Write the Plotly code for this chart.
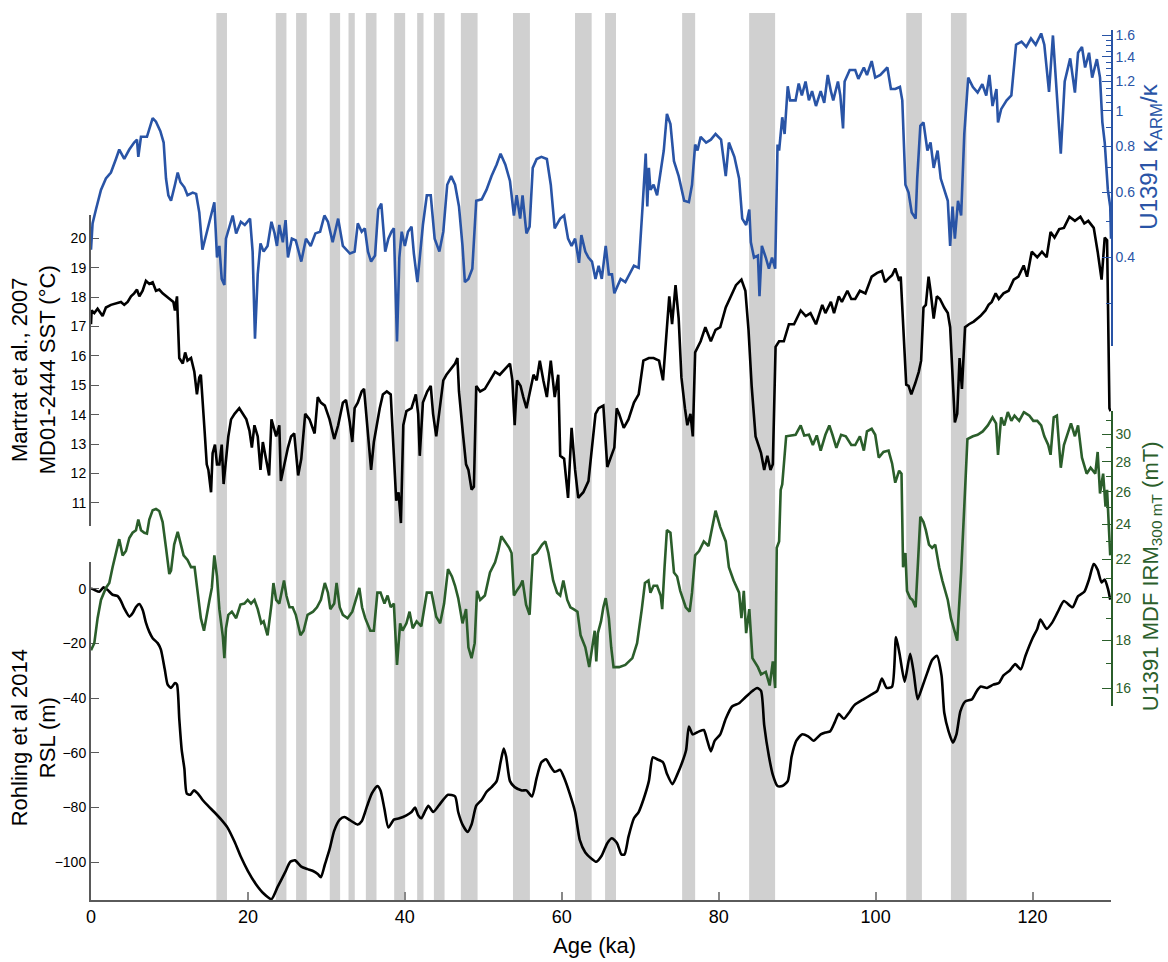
import math
import plotly.graph_objects as go

# ---------------- data ----------------
stadial_start = [15.98, 23.55, 26.14, 30.43, 32.82, 35.03, 38.64, 41.57, 43.70, 47.14,
                 53.78, 61.69, 65.52, 75.34, 83.88, 103.9, 109.6]
stadial_end = [17.33, 24.91, 27.50, 31.75, 33.62, 36.39, 40.04, 42.38, 45.06, 49.27,
               55.94, 63.81, 66.91, 77.00, 87.19, 105.9, 111.6]

karm_age = [0.0, 0.2, 0.63, 1.27, 1.9, 2.54, 3.18, 3.6, 4.24, 4.88, 5.5, 5.86, 6.03, 6.37, 7.13, 7.86,
            8.28, 8.84, 9.26, 9.56, 9.86, 10.2, 10.7, 11.05, 11.4, 11.9, 12.3, 12.96, 13.4, 13.8, 14.2,
            14.66, 15.3, 15.72, 16.06, 16.36, 16.66, 17.0, 17.2, 17.6, 18.06, 18.5, 19.1, 19.6, 20.27,
            20.6, 20.9, 21.25, 21.6, 22.0, 22.5, 23.0, 23.4, 23.7, 24.0, 24.45, 24.8, 25.1, 25.6, 26.1,
            26.8, 27.4, 28.0, 28.6, 29.2, 29.75, 30.2, 30.8, 31.5, 32.1, 33.0, 33.6, 34.0, 34.5, 34.9,
            35.3, 35.7, 36.2, 36.6, 37.0, 37.5, 37.9, 38.3, 38.6, 39.0, 39.3, 39.6, 40.0, 40.4, 40.85,
            41.15, 41.6, 41.9, 42.3, 42.8, 43.3, 43.8, 44.4, 44.9, 45.4, 45.9, 46.4, 46.9, 47.35, 47.65,
            48.1, 48.6, 49.1, 49.8, 50.4, 51.05, 51.7, 52.2, 52.8, 53.4, 53.9, 54.25, 54.7, 55.0, 55.5,
            55.9, 56.3, 56.8, 57.4, 58.1, 58.6, 59.1, 59.8, 60.3, 60.8, 61.25, 61.7, 62.2, 62.5, 63.0,
            63.4, 63.85, 64.3, 64.7, 65.1, 65.6, 66.0, 66.4, 66.7, 67.5, 68.1, 69.2, 69.8, 70.3, 70.7,
            70.9, 71.1, 71.3, 71.7, 72.15, 72.6, 73.0, 73.4, 73.85, 74.3, 74.9, 75.6, 76.2, 76.6, 77.0,
            77.3, 77.7, 78.4, 79.0, 79.6, 80.3, 80.9, 81.3, 82.0, 82.6, 83.0, 83.5, 83.9, 84.1, 84.5,
            85.0, 85.2, 85.5, 86.0, 86.4, 86.8, 87.2, 87.5, 87.7, 88.1, 88.4, 88.8, 89.1, 89.8, 90.2,
            90.6, 91.07, 91.5, 91.9, 92.4, 93.0, 93.45, 93.9, 94.3, 94.6, 95.2, 95.5, 95.85, 96.05, 96.7,
            97.4, 97.8, 98.5, 98.9, 99.5, 99.95, 100.6, 101.5, 101.95, 102.5, 103.1, 103.4, 103.6, 103.8,
            104.2, 104.6, 105.1, 105.3, 105.7, 106.1, 106.6, 107.0, 107.4, 107.9, 108.3, 108.7, 109.2,
            109.5, 109.8, 110.1, 110.5, 110.9, 111.3, 111.8, 112.4, 113.0, 113.6, 114.1, 114.5, 114.9,
            115.4, 115.6, 116.0, 116.7, 117.3, 117.9, 118.6, 119.2, 119.8, 120.4, 121.1, 121.5, 122.1,
            122.6, 123.0, 123.6, 124.1, 124.8, 125.4, 125.8, 126.3, 126.7, 127.2, 127.6, 128.2, 128.6,
            128.9, 129.2, 129.6, 129.9, 130.0]
karm_val = [0.42, 0.495, 0.54, 0.61, 0.655, 0.68, 0.74, 0.785, 0.74, 0.785, 0.82, 0.835, 0.75, 0.85, 0.85, 0.955,
            0.934, 0.88, 0.82, 0.655, 0.59, 0.57, 0.63, 0.68, 0.64, 0.62, 0.59, 0.6, 0.595, 0.53, 0.42,
            0.46, 0.52, 0.565, 0.40, 0.43, 0.35, 0.337, 0.45, 0.48, 0.52, 0.465, 0.5, 0.49, 0.51,
            0.415, 0.241, 0.36, 0.437, 0.415, 0.43, 0.50, 0.465, 0.43, 0.49, 0.44, 0.505, 0.40, 0.45, 0.445,
            0.39, 0.45, 0.43, 0.465, 0.47, 0.52, 0.50, 0.44, 0.51, 0.43, 0.41, 0.415, 0.495, 0.47, 0.48,
            0.415, 0.39, 0.405, 0.54, 0.56, 0.415, 0.45, 0.47, 0.48, 0.237, 0.40, 0.47, 0.43, 0.47, 0.485,
            0.41, 0.343, 0.40, 0.49, 0.59, 0.59, 0.45, 0.415, 0.47, 0.63, 0.665, 0.63, 0.55, 0.43, 0.343,
            0.35, 0.373, 0.57, 0.575, 0.61, 0.665, 0.715, 0.765, 0.715, 0.645, 0.52, 0.59, 0.51, 0.59, 0.465,
            0.485, 0.70, 0.74, 0.75, 0.74, 0.63, 0.48, 0.51, 0.52, 0.45, 0.43, 0.45, 0.387, 0.46, 0.415,
            0.40, 0.39, 0.35, 0.38, 0.35, 0.43, 0.36, 0.36, 0.32, 0.35, 0.343, 0.38, 0.375, 0.55, 0.765,
            0.55, 0.70, 0.61, 0.63, 0.59, 0.68, 0.78, 0.98, 0.92, 0.73, 0.665, 0.57, 0.565, 0.63, 0.81,
            0.78, 0.85, 0.82, 0.835, 0.865, 0.835, 0.665, 0.82, 0.75, 0.655, 0.51, 0.49, 0.54, 0.44, 0.40,
            0.405, 0.314, 0.43, 0.40, 0.373, 0.40, 0.373, 0.81, 0.78, 0.96, 0.865, 1.165, 1.067, 1.067, 1.185,
            1.1, 1.2, 1.067, 1.13, 1.03, 1.13, 1.05, 1.25, 1.13, 1.067, 1.2, 1.1, 0.896, 1.2, 1.29,
            1.29, 1.22, 1.31, 1.25, 1.363, 1.23, 1.25, 1.31, 1.145, 1.145, 1.16, 1.067, 0.765, 0.63,
            0.60, 0.53, 0.51, 0.655, 0.91, 0.93, 0.78, 0.82, 0.70, 0.78, 0.655, 0.615, 0.57,
            0.43, 0.55, 0.45, 0.57, 0.52, 0.865, 1.23, 1.16, 1.12, 1.18, 1.1, 1.25, 1.03,
            1.145, 0.93, 1.01, 1.067, 1.1, 1.51, 1.54, 1.49, 1.57, 1.51, 1.62, 1.51, 1.125,
            1.6, 1.2, 0.765, 1.2, 1.387, 1.12, 1.436, 1.49, 1.31, 1.436, 1.23, 1.38, 1.23,
            0.93, 0.82, 0.61, 0.55, 0.45]

sst_age = [0.0, 0.08, 0.42, 0.84, 1.48, 1.9, 2.54, 3.18, 3.82, 4.24, 4.67, 5.1, 5.5, 5.86, 6.16, 6.58, 7.0,
           7.43, 7.86, 8.28, 8.7, 9.13, 9.56, 9.98, 10.5, 10.7, 10.96, 11.25, 11.7, 12.0, 12.3, 12.75,
           13.17, 13.5, 13.8, 14.0, 14.2, 14.5, 14.75, 14.96, 15.3, 15.5, 15.8, 16.06, 16.36, 16.66, 16.9,
           17.2, 17.5, 17.85, 18.3, 18.9, 19.35, 19.8, 20.2, 20.5, 20.83, 21.25, 21.6, 21.9, 22.3, 22.7,
           23.0, 23.6, 24.0, 24.2, 24.65, 25.1, 25.5, 25.9, 26.4, 26.8, 27.3, 27.85, 28.5, 28.9, 29.3,
           29.8, 30.4, 31.0, 31.5, 32.1, 32.5, 32.98, 33.3, 33.6, 34.0, 34.5, 34.8, 35.1, 35.5, 35.7,
           36.05, 36.4, 36.8, 37.2, 37.7, 38.2, 38.5, 38.9, 39.2, 39.5, 39.8, 40.2, 40.85, 41.4, 41.7,
           41.9, 42.3, 42.85, 43.3, 43.6, 44.0, 44.5, 44.9, 45.3, 45.9, 46.4, 46.7, 46.9, 47.4, 47.8,
           48.1, 48.5, 48.8, 49.1, 49.6, 50.2, 50.85, 51.5, 52.1, 52.75, 53.4, 53.7, 54.0, 54.3, 54.75,
           55.1, 55.5, 55.95, 56.4, 56.8, 57.2, 57.65, 58.1, 58.6, 59.1, 59.55, 59.8, 60.3, 60.8, 61.25,
           61.7, 62.1, 62.75, 63.4, 63.8, 64.3, 64.7, 65.3, 65.8, 66.2, 66.7, 67.0, 67.3, 67.9, 68.5,
           69.2, 69.8, 70.4, 71.1, 71.7, 72.4, 72.9, 73.3, 73.7, 74.06, 74.5, 74.9, 75.25, 75.7, 76.0,
           76.4, 76.7, 77.0, 77.7, 78.3, 79.0, 79.6, 80.2, 80.9, 81.5, 82.2, 82.9, 83.4, 83.8, 84.2,
           84.7, 85.4, 85.8, 86.2, 86.6, 86.9, 87.25, 87.7, 88.3, 88.95, 89.6, 90.45, 91.1, 91.7, 92.4,
           93.2, 93.6, 94.3, 94.7, 95.3, 95.7, 96.4, 96.9, 97.4, 98.0, 98.7, 99.5, 100.2, 100.8, 101.2,
           101.65, 102.1, 102.5, 103.0, 103.2, 103.6, 103.9, 104.2, 104.55, 105.05, 105.5, 105.8, 106.1,
           106.4, 106.75, 107.0, 107.4, 107.8, 108.2, 108.75, 109.2, 109.5, 109.8, 110.1, 110.4, 110.7,
           111.0, 111.4, 111.9, 112.5, 113.35, 114.0, 114.4, 114.8, 115.3, 115.7, 116.3, 116.95, 117.6,
           118.2, 118.87, 119.3, 119.9, 120.6, 121.2, 121.8, 122.3, 122.8, 123.4, 124.0, 124.7, 125.4,
           126.1, 126.6, 127.1, 127.8, 128.3, 128.8, 129.2, 129.5, 129.8, 129.95]
sst_val = [17.08, 17.55, 17.46, 17.61, 17.36, 17.65, 17.74, 17.78, 17.84, 17.74, 17.84, 18.03, 18.13, 18.26, 18.03, 18.22, 18.56,
           18.45, 18.51, 18.22, 18.26, 18.13, 18.03, 17.94, 17.84, 17.55, 18.03, 15.93, 15.74, 16.12, 15.84, 15.93,
           15.46, 14.69, 15.27, 15.36, 14.41, 13.36, 12.31, 12.12, 11.36, 12.69, 12.98, 12.31, 12.31, 12.98, 11.64,
           12.5, 13.26, 13.84, 14.03, 14.22, 14.03, 13.84, 13.45, 12.88, 13.64, 13.26, 12.12, 13.07, 12.5, 11.93,
           13.84, 13.26, 13.64, 11.74, 12.31, 12.88, 13.26, 13.36, 11.93, 12.5, 14.03, 13.84, 13.36, 14.6, 14.41,
           14.31, 13.84, 13.17, 13.64, 14.41, 14.5, 13.74, 13.07, 14.22, 14.41, 14.79, 14.88, 14.03, 12.69, 12.12,
           13.07, 13.64, 14.22, 14.69, 14.79, 14.69, 13.17, 11.07, 11.36, 10.31, 13.64, 14.12, 14.22, 14.69, 14.03,
           12.6, 14.41, 14.79, 14.98, 14.03, 13.26, 14.41, 15.17, 15.36, 15.55, 15.74, 15.93, 14.79, 13.36, 12.31,
           12.12, 11.45, 11.55, 14.98, 14.79, 14.88, 15.17, 15.46, 15.36, 15.55, 15.74, 15.17, 13.64, 15.17, 14.98,
           14.6, 14.22, 14.79, 15.36, 15.17, 15.84, 15.17, 14.6, 15.84, 14.6, 15.36, 12.6, 12.5, 11.17, 13.55,
           12.12, 11.17, 11.36, 11.74, 12.69, 14.03, 14.22, 14.31, 12.22, 12.5, 12.88, 14.22, 14.03, 13.55, 13.84,
           14.41, 14.69, 15.84, 15.93, 15.93, 15.84, 15.17, 16.79, 18.03, 17.08, 18.41, 17.27, 15.27, 14.22, 13.64,
           14.03, 13.26, 16.12, 16.5, 16.98, 16.5, 16.89, 16.98, 17.65, 18.03, 18.41, 18.6, 18.22, 16.89, 14.98,
           13.26, 12.69, 12.12, 12.6, 12.12, 12.31, 16.31, 16.5, 16.5, 17.08, 17.08, 17.55, 17.36, 17.46, 17.08,
           17.74, 17.46, 17.84, 17.46, 18.03, 17.84, 18.22, 17.94, 17.94, 18.22, 18.13, 18.7, 18.83, 18.89, 18.51,
           18.64, 18.75, 18.98, 18.56, 18.7, 16.7, 15.02, 14.98, 14.69, 15.07, 15.46, 15.84, 17.65,
           17.74, 18.7, 18.22, 17.27, 18.03, 17.94, 17.65, 17.46, 16.98, 15.36, 13.74, 14.03, 15.93,
           14.88, 16.98, 17.08, 17.17, 17.36, 17.55, 17.74, 17.84, 18.13, 17.94, 18.13, 18.22, 18.6,
           18.7, 19.08, 18.7, 19.55, 19.36, 19.55, 19.36, 20.22, 20.03, 20.32, 20.36, 20.74, 20.6,
           20.74, 20.51, 20.6, 20.36, 19.55, 18.6, 20.03, 19.94, 14.22, 14.12]

mdf_age = [0.0, 0.42, 0.84, 1.27, 1.9, 2.33, 2.75, 3.18, 3.6, 4.03, 4.45, 4.88, 5.3, 5.73, 6.03, 6.37, 6.8,
           7.13, 7.43, 7.86, 8.28, 8.7, 9.13, 9.56, 9.98, 10.2, 10.6, 11.05, 11.4, 11.8, 12.3, 12.75, 13.2,
           13.6, 14.0, 14.4, 14.66, 15.1, 15.4, 15.72, 16.06, 16.36, 16.8, 17.0, 17.2, 17.5, 17.95, 18.5,
           19.05, 19.55, 19.97, 20.4, 20.83, 21.25, 21.7, 22.0, 22.5, 23.0, 23.25, 23.6, 24.0, 24.6, 24.9,
           25.3, 25.7, 26.1, 26.7, 27.1, 27.6, 28.3, 28.8, 29.3, 29.8, 30.2, 30.5, 31.0, 31.3, 31.7, 32.1,
           32.7, 33.3, 33.8, 34.2, 34.55, 34.95, 35.6, 36.05, 36.5, 36.9, 37.4, 37.8, 38.2, 38.6, 39.0,
           39.4, 39.7, 40.2, 40.6, 41.0, 41.5, 42.1, 42.8, 43.4, 44.0, 44.5, 45.0, 45.5, 46.0, 46.4, 46.8,
           47.35, 47.8, 48.1, 48.5, 48.9, 49.2, 49.6, 50.2, 50.85, 51.5, 51.9, 52.3, 52.75, 53.3, 53.6,
           53.9, 54.25, 54.7, 55.0, 55.45, 55.9, 56.3, 56.8, 57.5, 57.9, 58.3, 58.9, 59.4, 59.8, 60.2,
           60.7, 61.1, 61.5, 62.0, 62.4, 63.0, 63.5, 63.85, 64.2, 64.4, 64.6, 65.0, 65.3, 65.6, 66.0,
           66.3, 66.6, 67.3, 68.1, 69.0, 69.6, 70.2, 70.6, 71.05, 71.3, 71.7, 72.15, 72.6, 72.8, 73.1,
           73.4, 73.85, 74.3, 74.7, 75.1, 75.8, 76.3, 76.6, 77.0, 77.5, 78.1, 78.7, 79.6, 80.2, 80.9,
           81.3, 81.9, 82.6, 82.9, 83.2, 83.5, 83.9, 84.3, 85.0, 85.4, 86.0, 86.5, 86.9, 87.2, 87.4,
           87.7, 87.9, 88.1, 88.6, 89.2, 89.8, 90.45, 90.9, 91.5, 92.0, 92.5, 93.0, 93.6, 94.1, 94.5,
           95.0, 95.6, 96.2, 96.9, 97.4, 98.0, 98.5, 98.9, 99.5, 99.95, 100.4, 101.0, 101.65, 102.1,
           102.5, 103.0, 103.3, 103.5, 103.8, 104.0, 104.4, 104.7, 105.1, 105.4, 105.7, 106.1, 106.4,
           106.8, 107.2, 107.6, 108.1, 108.5, 109.2, 109.6, 110.0, 110.4, 110.6, 110.9, 111.3, 111.7,
           112.4, 113.0, 113.65, 114.3, 114.9, 115.35, 115.6, 116.0, 116.4, 116.85, 117.3, 117.7, 118.3,
           118.9, 119.6, 120.1, 120.6, 121.1, 121.5, 122.0, 122.3, 122.7, 123.1, 123.6, 124.0, 124.4,
           124.9, 125.4, 125.8, 126.3, 126.9, 127.4, 128.0, 128.3, 128.6, 129.0, 129.3, 129.5, 129.9]
mdf_val = [17.57, 17.88, 19.02, 19.9, 20.5, 20.75, 21.58, 22.35, 23.13, 22.22, 22.46, 23.2, 23.5, 23.65, 24.28, 23.65, 23.5,
           23.45, 24.28, 24.85, 24.92, 24.8, 24.13, 22.64, 21.22, 21.4, 22.82, 23.55, 22.91, 22.22, 21.97, 21.58, 21.58,
           20.12, 19.02, 18.44, 19.02, 19.9, 20.5, 22.22, 21.09, 19.45, 18.18, 17.23, 18.55, 19.18, 19.33, 19.02,
           19.67, 19.72, 19.9, 19.72, 19.9, 19.45, 18.78, 18.87, 18.23, 19.67, 20.75, 19.9, 19.72, 20.88, 20.12,
           19.54, 19.54, 19.18, 18.23, 18.44, 19.18, 19.33, 19.54, 19.9, 20.75, 20.26, 19.45, 19.72, 20.75, 19.54, 19.18,
           19.02, 19.33, 19.99, 20.5, 19.54, 19.02, 18.44, 18.44, 20.26, 20.26, 19.72, 20.12, 19.54, 19.72, 16.94,
           18.78, 18.44, 18.78, 19.33, 18.55, 18.87, 18.64, 20.26, 20.26, 19.09, 18.78, 19.72, 21.48, 21.09, 20.61, 19.99,
           18.78, 19.45, 17.7, 17.23, 17.88, 20.35, 19.9, 20.12, 21.3, 21.84, 22.46, 23.3, 23.0, 22.64, 22.35,
           20.12, 20.35, 20.61, 20.88, 19.67, 19.18, 22.22, 22.35, 22.82, 23.0, 22.35, 20.88, 20.26, 20.12, 20.88,
           19.9, 19.54, 19.45, 19.33, 18.23, 17.7, 16.85, 17.57, 18.44, 17.09, 18.33, 18.87, 19.54, 19.99, 19.02,
           17.7, 16.85, 16.85, 16.94, 17.23, 17.88, 19.45, 20.75, 20.88, 20.26, 20.61, 20.61, 20.12, 19.45, 21.58,
           23.65, 23.5, 21.3, 21.09, 20.35, 19.54, 19.33, 20.26, 22.22, 22.46, 23.0, 22.74, 24.82, 23.83, 23.0,
           21.58, 20.88, 20.26, 19.02, 20.35, 18.33, 19.45, 17.23, 16.85, 16.55, 16.65, 16.1, 17.09, 16.0, 22.64,
           23.0, 26.13, 26.49, 29.84, 29.9, 29.95, 30.65, 29.9, 29.95, 29.2, 29.9, 28.8, 29.95, 30.65, 29.95,
           29.0, 29.95, 29.84, 29.2, 29.2, 29.84, 28.8, 30.2, 30.4, 29.95, 28.3, 28.7, 28.8, 27.9,
           26.6, 27.4, 27.2, 21.58, 22.35, 20.35, 19.99, 19.9, 19.54, 21.84, 24.45, 24.13, 23.65,
           22.82, 22.64, 22.82, 21.58, 20.88, 19.9, 19.02, 18.55, 17.99, 19.33, 21.3, 25.07, 29.64,
           29.84, 29.95, 30.2, 30.65, 31.27, 30.8, 28.5, 31.27, 30.65, 31.68, 31.0, 31.4, 31.0,
           31.68, 31.4, 31.0, 31.0, 30.65, 29.84, 29.2, 28.5, 31.27, 31.4, 27.6, 29.2, 29.95,
           30.8, 29.84, 30.65, 28.3, 27.2, 27.6, 27.2, 28.7, 25.9, 27.2, 25.07, 26.13, 22.22]

rsl_age = [0, 0.42, 1.06, 1.6, 2.1, 2.75, 3.4, 3.82, 4.24, 4.9, 5.3, 5.73, 6.16, 6.6, 7.0, 7.43, 7.86, 8.5,
           8.9, 9.4, 9.77, 10.2, 10.7, 10.96, 11.25, 11.56, 11.9, 12.2, 12.66, 13.1, 13.6, 14.2, 14.9, 15.7,
           16.6, 17.4, 18.3, 19.1, 20.0, 21.0, 22.0, 23.0, 23.8, 24.7, 25.4, 26.0, 26.8, 27.6, 28.3, 28.9,
           29.3, 29.8, 30.4, 31.0, 31.7, 32.3, 33.0, 34.0, 34.5, 35.2, 35.8, 36.5, 36.9, 37.4, 37.9, 38.6,
           39.3, 40.2, 40.85, 41.3, 41.7, 42.1, 42.6, 43.0, 43.6, 44.3, 44.9, 45.5, 46.4, 46.8, 47.35, 48.0,
           48.5, 49.1, 49.8, 50.4, 51.05, 51.7, 52.2, 52.6, 52.9, 53.4, 54.0, 54.9, 55.5, 56.2, 56.8, 57.4,
           58.0, 58.5, 59.1, 59.8, 60.3, 61.0, 61.7, 62.3, 63.0, 63.8, 64.4, 65.1, 65.8, 66.4, 67.05, 67.6,
           68.0, 68.5, 69.2, 69.8, 70.4, 71.1, 71.6, 72.15, 72.9, 73.4, 74.1, 74.7, 75.35, 75.85, 76.2,
           76.7, 77.5, 78.1, 78.55, 79.0, 79.5, 80.2, 80.9, 81.7, 82.6, 83.4, 84.3, 84.9, 85.4, 85.8, 86.4,
           86.9, 87.5, 88.1, 88.8, 89.3, 89.9, 90.6, 91.4, 92.1, 93.0, 93.6, 94.2, 94.8, 95.3, 95.95, 96.6,
           97.3, 98.5, 99.3, 100.2, 100.8, 101.4, 102.1, 102.6, 103.05, 103.7, 104.4, 104.85, 105.35, 105.9,
           106.6, 107.2, 107.8, 108.4, 108.75, 109.3, 109.85, 110.3, 110.8, 111.4, 112.3, 112.9, 113.4,
           114.2, 115.0, 115.7, 116.3, 117.1, 117.8, 118.5, 119.1, 120.0, 120.6, 121.0, 121.8, 122.5,
           123.2, 124.0, 125.1, 125.8, 126.6, 127.2, 127.8, 128.3, 128.8, 129.2, 129.6, 129.9]
rsl_val = [0.1, -0.4, -1.1, 0.5, -0.4, -2.2, -2.7, -4.5, -7.2, -10.2, -9.0, -6.7, -5.6, -7.9, -12.4, -15.8, -18.1, -19.9,
           -22.2, -29.5, -35.1, -36.3, -34.5, -35.1, -47.6, -59.0, -65.8, -74.9, -75.4, -73.8, -74.9, -77.2, -79.4, -81.7,
           -84.5, -87.4, -92.6, -98.1, -103.3, -108.0, -111.5, -113.6, -109.0, -104.0, -99.9, -99.4, -101.7, -102.6, -103.3, -104.4,
           -105.6, -101.0, -95.4, -88.5, -84.5, -83.5, -84.7, -86.3, -85.1, -79.4, -74.9, -72.2, -73.8, -80.6, -87.4, -84.5,
           -84.0, -82.9, -81.7, -80.1, -82.9, -84.0, -81.3, -79.4, -81.7, -79.4, -77.2, -75.4, -76.0, -81.7, -86.3, -89.0,
           -86.3, -79.4, -77.2, -74.4, -72.6, -70.4, -63.5, -58.5, -61.3, -70.4, -72.6, -73.8, -73.8, -76.0, -69.2, -63.5,
           -62.4, -64.7, -67.0, -66.3, -69.2, -74.9, -81.7, -92.0, -96.5, -98.8, -99.9, -97.6, -93.1, -91.3, -93.1, -97.2,
           -97.2, -90.8, -84.0, -81.7, -77.2, -70.4, -61.7, -62.4, -63.5, -67.7, -71.5, -68.1, -63.5, -59.0, -50.4,
           -53.3, -52.2, -51.7, -55.6, -59.5, -55.6, -53.3, -47.6, -43.1, -41.9, -39.7, -37.4, -36.3, -37.4, -49.9, -61.3,
           -68.1, -72.2, -72.2, -70.4, -61.3, -55.6, -53.3, -54.0, -55.6, -53.3, -52.6, -52.2, -48.8, -45.8, -47.6, -45.4,
           -42.6, -40.4, -39.0, -37.4, -32.9, -36.3, -35.8, -17.7, -23.8, -34.0, -23.8, -30.6, -40.4, -36.3,
           -30.6, -26.1, -24.5, -31.7, -45.4, -52.2, -56.3, -53.3, -44.9, -41.3, -40.4, -37.4, -35.8,
           -36.3, -35.1, -34.5, -31.7, -29.9, -27.6, -29.5, -24.5, -18.1, -14.7, -11.3, -14.7, -12.4,
           -8.6, -4.5, -6.8, -2.7, -1.1, 3.4, 9.1, 6.9, 2.3, 3.4, 0.1, -4.0]

x_ticks = [0, 20, 40, 60, 80, 100, 120]
sst_ticks = [11, 12, 13, 14, 15, 16, 17, 18, 19, 20]
rsl_ticks = [-100, -80, -60, -40, -20, 0]
mdf_major = [16, 18, 20, 22, 24, 26, 28, 30]
mdf_minor = [17, 19, 21, 23, 25, 27, 29, 31]
karm_major = [0.4, 0.6, 0.8, 1, 1.2, 1.4, 1.6]
karm_minor = [0.3, 0.5, 0.7, 0.9, 1.05, 1.1, 1.15, 1.25, 1.3, 1.35, 1.45, 1.5, 1.55]

# ---------------- style ----------------
BLUE = "#2954a6"
GREEN = "#2b5e2b"
AXGREY = "#5a5a5a"
FONT = "Liberation Sans, Arial, Helvetica, sans-serif"
LW = 2.6

fig = go.Figure()

fig.add_trace(go.Scatter(x=rsl_age, y=rsl_val, mode="lines",
                         line=dict(color="black", width=LW, shape="spline", smoothing=0.6),
                         xaxis="x", yaxis="y", showlegend=False))
fig.add_trace(go.Scatter(x=mdf_age, y=mdf_val, mode="lines", line=dict(color=GREEN, width=LW),
                         xaxis="x", yaxis="y2", showlegend=False))
fig.add_trace(go.Scatter(x=sst_age, y=sst_val, mode="lines", line=dict(color="black", width=LW),
                         xaxis="x", yaxis="y3", showlegend=False))
fig.add_trace(go.Scatter(x=karm_age, y=karm_val, mode="lines", line=dict(color=BLUE, width=LW),
                         xaxis="x", yaxis="y4", showlegend=False))

shapes = []
for s, e in zip(stadial_start, stadial_end):
    shapes.append(dict(type="rect", xref="x", yref="paper", x0=s, x1=e, y0=0, y1=1,
                       fillcolor="#d0d0d0", line=dict(width=0), layer="below"))

fig.update_layout(
    width=1168, height=962,
    margin=dict(l=91, r=57, t=11, b=62),
    paper_bgcolor="white", plot_bgcolor="rgba(0,0,0,0)",
    font=dict(family=FONT, color="black", size=14),
    shapes=shapes,
    xaxis=dict(domain=[0, 1], range=[0, 130], anchor="y", showgrid=False, zeroline=False,
               showline=True, linecolor=AXGREY, linewidth=1.5,
               ticks="inside", tickmode="array", tickvals=x_ticks, ticklen=8, tickwidth=1.5,
               tickcolor="#888888", tickfont=dict(size=18)),
    yaxis=dict(domain=[0, 0.3805], range=[-113.9, 9.6], anchor="x", side="left",
               showgrid=False, zeroline=False, showline=True, linecolor=AXGREY, linewidth=2,
               ticks="inside", tickmode="array", tickvals=rsl_ticks, ticklen=8, tickwidth=1.3,
               tickcolor=AXGREY, tickfont=dict(size=14)),
    yaxis2=dict(domain=[0.2186, 0.5518], type="log", range=[math.log10(15.3), math.log10(31.8)],
                anchor="x", side="right", showgrid=False, zeroline=False, showline=True,
                linecolor=GREEN, linewidth=1.5, ticks="inside", tickmode="array",
                tickvals=mdf_major, ticktext=[str(v) for v in mdf_major], ticklen=9, tickwidth=1.3,
                tickcolor=GREEN, tickfont=dict(size=14, color=GREEN),
                minor=dict(tickmode="array", tickvals=mdf_minor, ticks="inside", ticklen=5,
                           tickcolor=GREEN, tickwidth=1.2, showgrid=False)),
    yaxis3=dict(domain=[0.4213, 0.7723], range=[10.2, 20.8], anchor="x", side="left",
                showgrid=False, zeroline=False, showline=True, linecolor=AXGREY, linewidth=2,
                ticks="inside", tickmode="array", tickvals=sst_ticks, ticklen=8, tickwidth=1.3,
                tickcolor=AXGREY, tickfont=dict(size=14)),
    yaxis4=dict(domain=[0.6244, 0.9810], type="log", range=[math.log10(0.23), math.log10(1.657)],
                anchor="x", side="right", showgrid=False, zeroline=False, showline=True,
                linecolor=BLUE, linewidth=1.5, ticks="inside", tickmode="array",
                tickvals=karm_major, ticktext=[("%g" % v) for v in karm_major], ticklen=9, tickwidth=1.3,
                tickcolor=BLUE, tickfont=dict(size=14, color=BLUE),
                minor=dict(tickmode="array", tickvals=karm_minor, ticks="inside", ticklen=5,
                           tickcolor=BLUE, tickwidth=1.2, showgrid=False)),
    annotations=[
        dict(text="Martrat et al., 2007<br>MD01-2444 SST (°C)", xref="paper", yref="paper",
             x=-0.0559, y=0.5984, xanchor="center", yanchor="middle", textangle=-90,
             showarrow=False, font=dict(size=22, color="black")),
        dict(text="Rohling et al 2014<br>RSL (m)", xref="paper", yref="paper",
             x=-0.0559, y=0.1834, xanchor="center", yanchor="middle", textangle=-90,
             showarrow=False, font=dict(size=22, color="black")),
        dict(text="U1391 κ<sub>ARM</sub>/κ", xref="paper", yref="paper",
             x=1.0392, y=0.838, xanchor="center", yanchor="middle", textangle=-90,
             showarrow=False, font=dict(size=24, color=BLUE)),
        dict(text="U1391 MDF IRM<sub>300 mT</sub> (mT)", xref="paper", yref="paper",
             x=1.0402, y=0.365, xanchor="center", yanchor="middle", textangle=-90,
             showarrow=False, font=dict(size=22, color=GREEN)),
        dict(text="Age (ka)", xref="paper", yref="paper", x=0.4941, y=-0.0517,
             xanchor="center", yanchor="middle", showarrow=False, font=dict(size=22, color="black")),
    ],
)

fig.write_html("out.html")
